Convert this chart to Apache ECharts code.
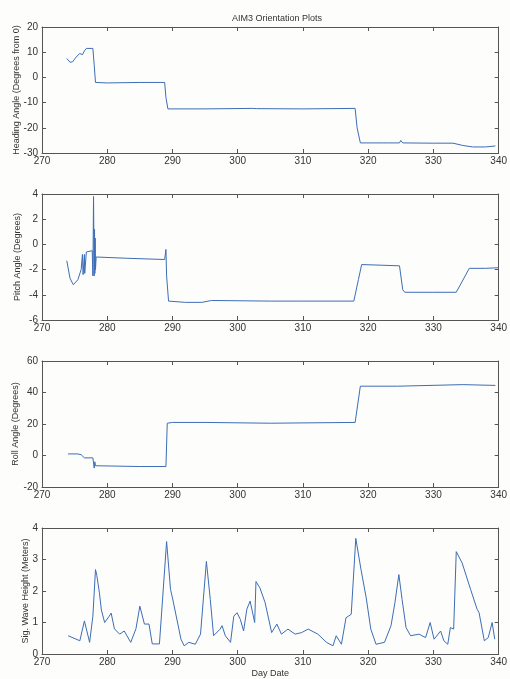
<!DOCTYPE html>
<html>
<head>
<meta charset="utf-8">
<script src="https://cdn.jsdelivr.net/npm/echarts@6/dist/echarts.min.js"></script>
<style>
html,body{margin:0;padding:0;background:#fdfdfc;}
#main{width:510px;height:679px;}
</style>
</head>
<body>
<div id="main"></div>
<script>
// heading angle
var headDays = [273.8, 274.3, 274.7, 275.2, 275.5, 275.8, 276.2, 276.5, 276.8, 277.8, 278.0, 278.2, 280, 285, 288.8, 289.0, 289.3, 295, 302.3, 302.6, 302.9, 310, 318.0, 318.3, 318.8, 322.3, 322.6, 323, 324.8, 325.0, 325.3, 330, 333.0, 334.5, 336.0, 338, 339.5];
var headVals = [7.5, 6.0, 6.2, 8.0, 8.5, 9.5, 9.0, 10.5, 11.5, 11.5, 5, -2.0, -2.2, -2.0, -2.0, -8, -12.5, -12.5, -12.3, -11.8, -12.4, -12.5, -12.3, -20, -26, -26, -25.4, -26, -26, -25.0, -26, -26.1, -26.1, -27, -27.6, -27.6, -27.2];

// pitch angle
var pitchDays = [273.8, 274.3, 274.8, 275.0, 275.5, 276.0, 276.2, 276.3, 276.5, 276.55, 276.8, 277.0, 277.7, 277.8, 277.9, 278.0, 278.05, 278.1, 278.15, 278.2, 278.3, 278.5, 283, 288.8, 289.0, 289.1, 289.4, 292, 294.5, 296, 305, 310, 317.8, 318.5, 319.0, 322, 324.8, 325.3, 325.6, 330, 333.5, 335.5, 338, 340];
var pitchVals = [-1.3, -2.7, -3.2, -3.3, -2.8, -2.0, -0.8, -2.4, -0.8, -2.3, -0.6, -0.5, -0.5, -2.5, 3.8, -2.5, 1.2, -2.3, 0.5, -2.0, -1.0, -1.1, -1.1, -1.2, -0.4, -2.5, -4.5, -4.6, -4.6, -4.45, -4.5, -4.5, -4.5, -2.8, -1.6, -1.65, -1.7, -3.6, -3.8, -3.8, -3.8, -1.9, -1.9, -1.85];

// roll angle
var rollDays = [274, 275.5, 276, 276.5, 277.8, 278.0, 278.1, 278.2, 278.5, 285, 289.0, 289.2, 290, 295, 295.2, 305, 318.0, 318.8, 324.5, 324.7, 334.5, 334.7, 339.5];
var rollVals = [1, 1, 0.5, -1.5, -1.5, -8, -4, -6.5, -7, -7, -7, 20.5, 21, 21, 20.5, 20.5, 21, 44, 44, 45, 45, 44.5, 44.5];

// significant wave height
var waveDays = [274.0, 275.8, 276.5, 277.3, 277.8, 278.2, 278.4, 278.8, 279.1, 279.6, 280.3, 280.6, 281.1, 281.9, 282.6, 283.6, 284.4, 285.0, 285.7, 286.4, 286.9, 288.0, 289.1, 289.7, 290.0, 291.3, 291.8, 292.5, 293.5, 294.3, 295.2, 295.8, 296.3, 297.3, 297.6, 298.1, 298.9, 299.4, 299.9, 300.4, 300.9, 301.4, 301.9, 302.6, 302.8, 303.4, 304.2, 305.2, 306.0, 306.7, 307.7, 308.8, 309.8, 310.8, 312.3, 313.6, 314.6, 315.1, 315.9, 316.6, 317.4, 318.1, 318.9, 319.7, 320.4, 321.2, 322.5, 323.5, 324.1, 324.7, 325.2, 325.8, 326.5, 327.8, 328.8, 329.5, 330.1, 331.1, 331.6, 332.2, 332.6, 333.1, 333.5, 334.4, 335.7, 336.7, 337.0, 337.8, 338.4, 339.0, 339.4];
var waveVals = [0.58, 0.42, 1.05, 0.37, 1.2, 2.68, 2.5, 1.94, 1.4, 1.0, 1.2, 1.3, 0.8, 0.63, 0.73, 0.37, 0.8, 1.52, 0.95, 0.95, 0.32, 0.32, 3.57, 2.05, 1.78, 0.47, 0.26, 0.37, 0.31, 0.63, 2.94, 1.73, 0.58, 0.79, 0.9, 0.58, 0.37, 1.2, 1.31, 1.1, 0.73, 1.42, 1.68, 1.0, 2.3, 2.1, 1.63, 0.68, 0.95, 0.63, 0.79, 0.63, 0.68, 0.79, 0.63, 0.37, 0.26, 0.58, 0.31, 1.15, 1.26, 3.67, 2.68, 1.78, 0.79, 0.31, 0.37, 0.9, 1.63, 2.52, 1.73, 0.84, 0.58, 0.63, 0.52, 1.0, 0.47, 0.73, 0.42, 0.31, 0.84, 0.79, 3.25, 2.89, 2.05, 1.42, 1.31, 0.42, 0.52, 1.0, 0.47];

var panels = [
  {name: 'Heading Angle (Degrees from 0)', days: headDays, vals: headVals, min: -30, max: 20, step: 10, top: 27, gap: 21},
  {name: 'Pitch Angle (Degrees)', days: pitchDays, vals: pitchVals, min: -6, max: 4, step: 2, top: 194, gap: 20},
  {name: 'Roll Angle (Degrees)', days: rollDays, vals: rollVals, min: -20, max: 60, step: 20, top: 361, gap: 22},
  {name: 'Sig. Wave Height (Meters)', days: waveDays, vals: waveVals, min: 0, max: 4, step: 1, top: 528, gap: 12}
];

var txt = '#333';
var axLine = {onZero: false, lineStyle: {color: '#555', width: 1}};
var tick = {inside: true, length: 4, lineStyle: {color: '#555'}};

var grids = [], xAxes = [], yAxes = [], series = [];
panels.forEach(function (p, i) {
  grids.push({left: 42, right: 8, top: p.top, height: 126});
  xAxes.push({
    type: 'value', gridIndex: i, min: 270, max: 340, interval: 10,
    axisLine: axLine, axisTick: tick, splitLine: {show: false},
    axisLabel: {color: txt, fontSize: 10, margin: 3, fontFamily: 'Liberation Sans'},
    name: i === 3 ? 'Day Date' : '', nameLocation: 'middle', nameGap: 15,
    nameTextStyle: {color: txt, fontSize: 9, fontFamily: 'Liberation Sans'}
  });
  xAxes.push({
    type: 'value', gridIndex: i, position: 'top', min: 270, max: 340, interval: 10,
    axisLine: axLine, axisTick: tick, axisLabel: {show: false}, splitLine: {show: false}
  });
  yAxes.push({
    type: 'value', gridIndex: i, min: p.min, max: p.max, interval: p.step,
    axisLine: {show: true, onZero: false, lineStyle: {color: '#555', width: 1}}, axisTick: tick, splitLine: {show: false},
    axisLabel: {color: txt, fontSize: 10, margin: 4, fontFamily: 'Liberation Sans'},
    name: p.name, nameLocation: 'middle', nameGap: p.gap, nameMoveOverlap: false,
    nameTextStyle: {color: txt, fontSize: 9, fontFamily: 'Liberation Sans'}
  });
  yAxes.push({
    type: 'value', gridIndex: i, position: 'right', min: p.min, max: p.max, interval: p.step,
    axisLine: {show: true, onZero: false, lineStyle: {color: '#555', width: 1}}, axisTick: tick,
    axisLabel: {show: false}, splitLine: {show: false}
  });
  series.push({
    type: 'line', xAxisIndex: i * 2, yAxisIndex: i * 2,
    data: p.days.map(function (d, k) { return [d, p.vals[k]]; }),
    showSymbol: false, symbol: 'none', animation: false,
    lineStyle: {color: '#3d6db5', width: 1}
  });
});

var chart = echarts.init(document.getElementById('main'));
chart.setOption({
  backgroundColor: '#fdfdfc',
  animation: false,
  title: {
    text: 'AIM3 Orientation Plots', left: 272, top: 9, textAlign: 'center',
    textStyle: {color: txt, fontSize: 9, fontWeight: 'normal', fontFamily: 'Liberation Sans'}
  },
  grid: grids,
  xAxis: xAxes,
  yAxis: yAxes,
  series: series
});
</script>
</body>
</html>
